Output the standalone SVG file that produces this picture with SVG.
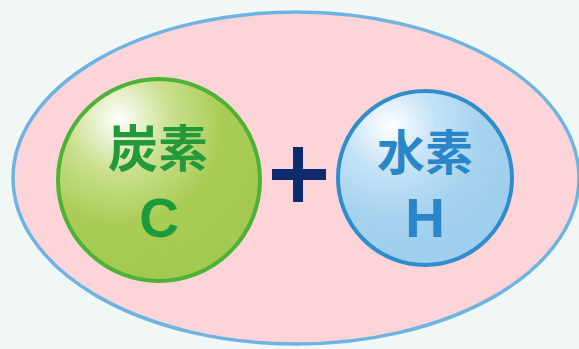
<svg xmlns="http://www.w3.org/2000/svg" width="579" height="349" viewBox="0 0 579 349">
<defs>
<radialGradient id="gG" cx="0.3" cy="0.2" r="0.75">
<stop offset="0" stop-color="#ffffff"/>
<stop offset="0.35" stop-color="#c9e08e"/>
<stop offset="0.7" stop-color="#a9cc55"/>
<stop offset="1" stop-color="#a4c950"/>
</radialGradient>
<radialGradient id="gB" cx="0.3" cy="0.2" r="0.75">
<stop offset="0" stop-color="#ffffff"/>
<stop offset="0.35" stop-color="#c4e2f5"/>
<stop offset="0.7" stop-color="#a6d3ef"/>
<stop offset="1" stop-color="#9fcfee"/>
</radialGradient>
<style>
.jp{font-family:"Noto Sans CJK JP","Noto Sans CJK SC",sans-serif;font-weight:bold;text-anchor:middle}
.sym{font-family:"Liberation Sans",Arial,sans-serif;font-weight:bold;text-anchor:middle}
</style>
</defs>
<rect width="579" height="349" fill="#f1f7f4"/>
<g id="outer">
<ellipse cx="296" cy="178" rx="283" ry="166" fill="#fdd5d8" stroke="#6db4e2" stroke-width="3.5"/>
</g>
<g id="carbon">
<circle cx="159" cy="180" r="101" fill="url(#gG)" stroke="#4db236" stroke-width="4"/>
<text class="jp" x="158" y="167" font-size="50" fill="#23993c">炭素</text>
<text class="sym" x="159" y="237" font-size="55" fill="#1d9a3c">C</text>
</g>
<g id="plus">
<rect x="272" y="169" width="54" height="11" fill="#0f2a6e"/>
<rect x="293" y="147" width="10" height="55" fill="#0f2a6e"/>
</g>
<g id="hydrogen">
<circle cx="425" cy="178" r="87" fill="url(#gB)" stroke="#2f8dcc" stroke-width="4"/>
<text class="jp" x="425" y="170" font-size="48" fill="#2a86c8">水素</text>
<text class="sym" x="425" y="237" font-size="55" fill="#2a86c8">H</text>
</g>
<g id="connectors"/>
</svg>
